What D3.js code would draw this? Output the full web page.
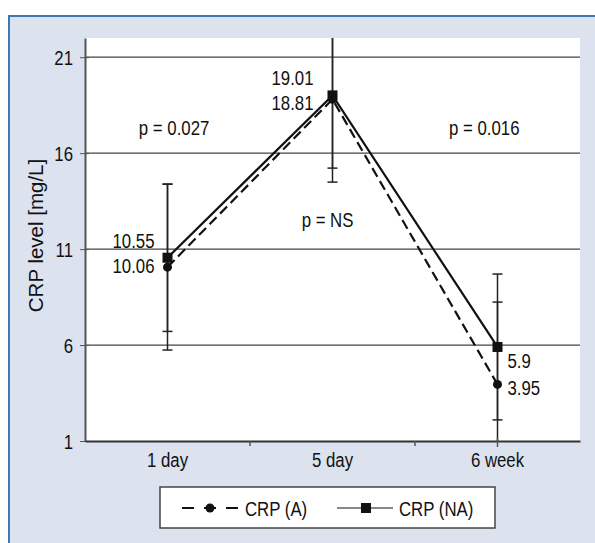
<!DOCTYPE html>
<html>
<head>
<meta charset="utf-8">
<script src="https://cdn.jsdelivr.net/npm/d3@7"></script>
<style>
  body { margin: 0; background: #fff; }
  svg text { font-family: "Liberation Sans", Arial, sans-serif; fill: #111; }
</style>
</head>
<body>
<div id="chart"></div>
<script>
// data
const categories = ['1 day', '5 day', '6 week'];
const crpA = [10.06, 18.81, 3.95];      // dashed, circles
const crpNA = [10.55, 19.01, 5.9];      // solid, squares
const errA = [4.32, 3.59, 4.29];
const errNA = [3.84, 4.52, 3.8];
const yTicks = [1, 6, 11, 16, 21];
const pLabels = ['p = 0.027', 'p = NS', 'p = 0.016'];

const W = 595, H = 543;
const margin = { top: 38, right: 15, bottom: 102, left: 85 };
const width = W - margin.left - margin.right;
const height = H - margin.top - margin.bottom;
const FS = 21, SX = 0.8;   // condensed look: scale text horizontally

const svg = d3.select('#chart').append('svg')
  .attr('width', W).attr('height', H);

// draw condensed text at (x,y)
function ctext(parent, x, y, str, anchor) {
  return parent.append('text')
    .attr('transform', `translate(${x},${y}) scale(${SX},1)`)
    .attr('text-anchor', anchor || 'start')
    .attr('font-size', FS)
    .text(str);
}

// panel background
svg.append('rect').attr('x', 8).attr('y', 15).attr('width', W - 8).attr('height', H - 15)
  .attr('fill', '#dce3ef');
svg.append('path').attr('d', `M9,${H}V16H${W}`)
  .attr('fill', 'none').attr('stroke', '#3b78b4').attr('stroke-width', 2);

const g = svg.append('g').attr('transform', `translate(${margin.left},${margin.top})`);
g.append('rect').attr('width', width).attr('height', height).attr('fill', '#fff');

const x = d3.scaleBand().domain(categories).range([0, width]);
const xc = d => x(d) + x.bandwidth() / 2;
const y = d3.scaleLinear().domain([1, 22]).range([height, 0]);

g.append('defs').append('clipPath').attr('id', 'clip')
  .append('rect').attr('width', width).attr('height', height);

// grid
g.selectAll('.grid').data(yTicks.slice(1)).join('line')
  .attr('x1', 0).attr('x2', width)
  .attr('y1', d => y(d)).attr('y2', d => y(d))
  .attr('stroke', '#444').attr('stroke-width', 1.2);

// y axis
const yAxis = g.append('g')
  .call(d3.axisLeft(y).tickValues(yTicks).tickSize(5).tickPadding(10).tickSizeOuter(0));
yAxis.select('.domain').attr('stroke', '#555').attr('stroke-width', 2);
yAxis.selectAll('.tick line').attr('stroke', '#555').attr('x2', 4).attr('x1', -5);
yAxis.selectAll('text').attr('font-size', FS).attr('fill', '#111')
  .attr('font-family', '"Liberation Sans", sans-serif')
  .attr('transform', `scale(${SX},1)`).attr('dy', '0.36em');

// x axis
const xAxis = g.append('g').attr('transform', `translate(0,${height})`)
  .call(d3.axisBottom(x).tickSize(0).tickPadding(11).tickSizeOuter(0));
xAxis.select('.domain').attr('stroke', '#333').attr('stroke-width', 2);
xAxis.selectAll('text').attr('font-size', FS).attr('fill', '#111')
  .attr('font-family', '"Liberation Sans", sans-serif')
  .attr('transform', `scale(${SX},1)`);
g.selectAll('.xtick').data(categories.slice(1)).join('line')
  .attr('x1', d => x(d)).attr('x2', d => x(d))
  .attr('y1', height).attr('y2', height + 5)
  .attr('stroke', '#555').attr('stroke-width', 1.5);

// axis title
svg.append('text')
  .attr('transform', `translate(43,${margin.top + height / 2 - 4}) rotate(-90)`)
  .attr('text-anchor', 'middle').attr('font-size', 20.5)
  .text('CRP level [mg/L]');

// error bars
const plot = g.append('g').attr('clip-path', 'url(#clip)');
function errorBars(vals, errs) {
  categories.forEach((c, i) => {
    const cx = xc(c), hi = y(vals[i] + errs[i]), lo = y(vals[i] - errs[i]);
    plot.append('line').attr('x1', cx).attr('x2', cx).attr('y1', hi).attr('y2', lo)
      .attr('stroke', '#222').attr('stroke-width', 1.5);
    [hi, lo].forEach(yy => plot.append('line')
      .attr('x1', cx - 5).attr('x2', cx + 5).attr('y1', yy).attr('y2', yy)
      .attr('stroke', '#222').attr('stroke-width', 1.5));
  });
}
errorBars(crpA, errA);
errorBars(crpNA, errNA);
// 6 week tick through the axis
g.append('line').attr('x1', xc(categories[2])).attr('x2', xc(categories[2]))
  .attr('y1', height - 3).attr('y2', height + 6).attr('stroke', '#555').attr('stroke-width', 1.5);

// lines
const line = d3.line().x((d, i) => xc(categories[i])).y(d => y(d));
g.append('path').datum(crpA).attr('d', line)
  .attr('fill', 'none').attr('stroke', '#111').attr('stroke-width', 2.2)
  .attr('stroke-dasharray', '10,5');
g.append('path').datum(crpNA).attr('d', line)
  .attr('fill', 'none').attr('stroke', '#111').attr('stroke-width', 2.2);

// markers
g.selectAll('.ptA').data(crpA).join('circle')
  .attr('cx', (d, i) => xc(categories[i])).attr('cy', d => y(d)).attr('r', 4.5).attr('fill', '#111');
g.selectAll('.ptNA').data(crpNA).join('rect')
  .attr('x', (d, i) => xc(categories[i]) - 5).attr('y', d => y(d) - 5)
  .attr('width', 10).attr('height', 10).attr('fill', '#111');

// value labels
const labelPos = [
  { a: 'end', dx: -13, dyNA: -10, dyA: 6 },
  { a: 'end', dx: -19, dyNA: -10, dyA: 11 },
  { a: 'start', dx: 10, dyNA: 21, dyA: 11 }
];
categories.forEach((c, i) => {
  const p = labelPos[i];
  ctext(g, xc(c) + p.dx, y(crpNA[i]) + p.dyNA, crpNA[i], p.a);
  ctext(g, xc(c) + p.dx, y(crpA[i]) + p.dyA, crpA[i].toFixed(2), p.a);
});

// p-value notes between the time points
const pPos = [[0.54, 16.94], [1.47, 12.15], [2.42, 16.94]];
pLabels.forEach((t, i) => {
  ctext(g, pPos[i][0] * x.bandwidth(), y(pPos[i][1]), t, 'middle');
});

// legend
const leg = svg.append('g').attr('transform', 'translate(160,487)');
leg.append('rect').attr('width', 335).attr('height', 41)
  .attr('fill', '#fff').attr('stroke', '#444').attr('stroke-width', 1.5);
leg.append('line').attr('x1', 22).attr('x2', 78).attr('y1', 21).attr('y2', 21)
  .attr('stroke', '#111').attr('stroke-width', 2.2).attr('stroke-dasharray', '12,10');
leg.append('circle').attr('cx', 50).attr('cy', 21).attr('r', 4.5).attr('fill', '#111');
ctext(leg, 85, 29, 'CRP (A)');
leg.append('line').attr('x1', 177).attr('x2', 233).attr('y1', 21).attr('y2', 21)
  .attr('stroke', '#111').attr('stroke-width', 1.2);
leg.append('rect').attr('x', 201).attr('y', 16).attr('width', 10).attr('height', 10).attr('fill', '#111');
ctext(leg, 239, 29, 'CRP (NA)');
</script>
</body>
</html>
